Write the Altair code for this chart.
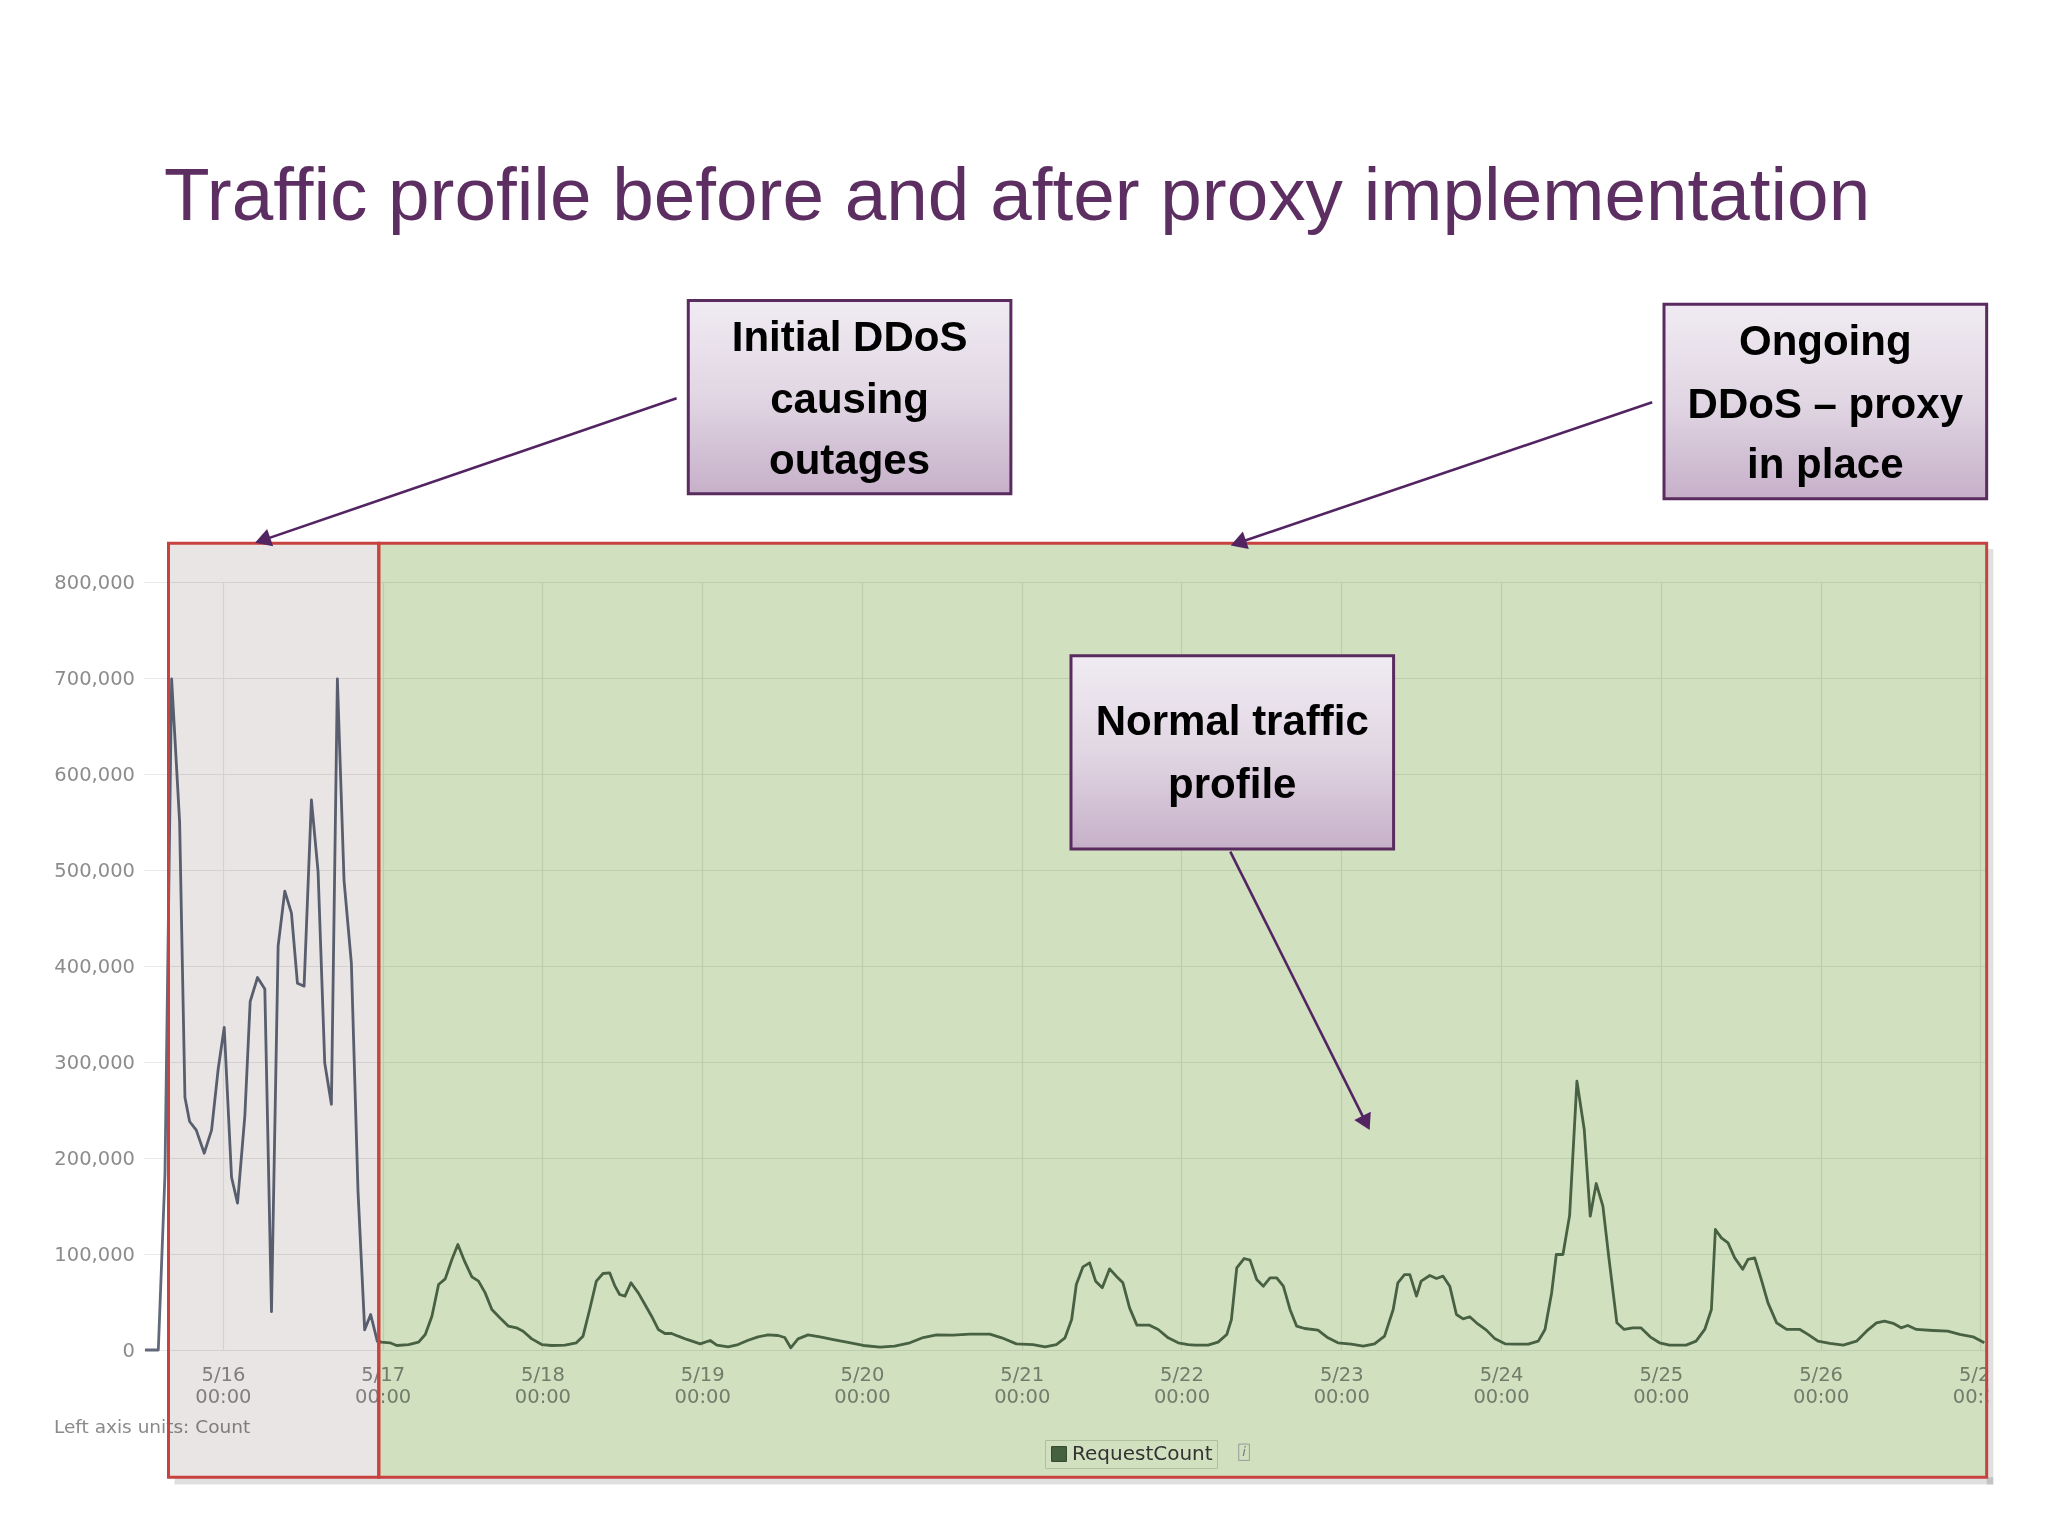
import altair as alt
import pandas as pd

# ------------------------------------------------------------------
# DATA (hours after 5/16 00:00, requests in thousands)
# ------------------------------------------------------------------
attack_hours = [-11.7, -9.7, -8.7, -7.7, -6.5, -5.7, -5.0, -4.0, -2.8, -1.7,
                -0.7, 0.2, 1.3, 2.2, 3.3, 4.1, 5.2, 6.3, 7.3, 8.3,
                9.3, 10.3, 11.2, 12.2, 13.3, 14.3, 15.3, 16.3, 17.2, 18.2,
                19.3, 20.3, 21.3, 22.2, 23.2]
attack_k = [0, 0, 183, 699, 550, 263, 238, 229, 205, 229,
            293, 336, 180, 153, 244, 363, 388, 376, 40, 421,
            478, 455, 382, 379, 573, 498, 299, 256, 699, 489,
            403, 165, 21, 37, 9]

proxy_hours = [23.8, 25.1, 26.1, 27.9, 29.4, 30.4, 31.4, 32.4, 33.4, 34.4,
               35.3, 36.3, 37.4, 38.4, 39.4, 40.4, 41.6, 42.9, 44.1, 45.1,
               46.4, 47.9, 49.4, 51.4, 53.1, 54.1, 55.1, 56.1, 57.1, 58.1,
               58.9, 59.6, 60.4, 61.3, 62.4, 63.4, 64.4, 65.4, 66.4, 67.4,
               68.4, 69.7, 71.7, 73.2, 74.2, 75.9, 77.4, 78.9, 80.4, 81.9,
               83.4, 84.4, 85.3, 86.4, 87.9, 89.7, 91.7, 93.7, 96.2, 98.7,
               100.9, 103.2, 105.2, 107.2, 109.7, 112.2, 115.2, 117.0, 119.2, 121.7,
               123.5, 125.2, 126.5, 127.5, 128.2, 129.2, 130.2, 131.1, 132.1, 133.2,
               134.2, 135.2, 136.2, 137.3, 139.2, 140.5, 142.0, 143.5, 145.0, 146.0,
               148.0, 149.5, 150.8, 151.5, 152.3, 153.4, 154.3, 155.3, 156.3, 157.3,
               158.3, 159.3, 160.3, 161.3, 162.5, 164.5, 166.0, 167.5, 169.5, 171.3,
               173.0, 174.5, 175.8, 176.5, 177.5, 178.3, 179.3, 180.0, 181.3, 182.3,
               183.3, 184.3, 185.3, 186.3, 187.3, 188.3, 189.8, 191.1, 192.6, 194.1,
               196.1, 197.6, 198.6, 199.6, 200.3, 201.3, 202.3, 203.4, 204.5, 205.4,
               206.3, 207.3, 208.2, 209.4, 210.5, 211.8, 213.0, 214.4, 215.8, 217.3,
               219.8, 221.3, 222.6, 223.6, 224.2, 225.1, 226.1, 227.1, 228.3, 229.1,
               230.1, 231.1, 232.1, 233.4, 234.9, 236.9, 238.1, 239.6, 241.4, 243.4,
               245.4, 246.9, 248.4, 249.6, 250.9, 252.1, 253.1, 254.4, 256.9, 259.1,
               260.9, 262.9, 264.6]
proxy_k = [8.2, 7.5, 4.7, 5.7, 8.2, 16.1, 35.2, 68.2, 74.1, 94.3,
           109.9, 92.5, 76.2, 71.7, 59.5, 42.2, 33.5, 24.8, 23.1, 19.6,
           11.6, 5.7, 4.7, 5.0, 7.5, 14.4, 42.2, 71.7, 79.7, 80.4,
           66.5, 57.8, 56.1, 70.0, 59.5, 47.4, 35.2, 21.4, 17.2, 17.2,
           14.4, 11.0, 6.4, 9.9, 5.0, 3.3, 5.7, 10.2, 13.7, 15.8,
           15.1, 13.0, 2.3, 11.6, 15.8, 13.7, 10.9, 8.2, 4.7, 3.0,
           4.0, 7.5, 13.0, 15.8, 15.5, 16.5, 16.5, 12.7, 6.4, 5.7,
           3.3, 5.7, 12.7, 31.8, 68.2, 86.6, 90.8, 71.7, 64.8, 84.5,
           76.9, 70.0, 43.9, 25.9, 25.9, 21.4, 12.7, 7.5, 5.7, 5.0,
           5.0, 8.2, 16.1, 31.8, 85.6, 95.3, 93.6, 73.4, 66.5, 75.2,
           75.2, 66.5, 42.2, 24.8, 22.4, 20.7, 12.7, 7.5, 6.1, 4.0,
           6.4, 14.4, 42.2, 70.0, 78.6, 78.6, 56.1, 71.7, 77.6, 74.5,
           76.9, 66.5, 37.0, 32.5, 34.6, 28.3, 20.7, 11.6, 6.4, 6.1,
           6.1, 9.2, 21.4, 59.5, 99.5, 99.5, 140.0, 280.0, 229.7, 139.4,
           173.4, 149.8, 96.0, 28.3, 21.4, 23.1, 23.1, 13.7, 7.5, 5.1,
           5.1, 9.2, 21.4, 42.2, 125.5, 116.8, 111.6, 96.0, 84.1, 94.4,
           96.0, 73.4, 49.1, 28.3, 21.4, 21.4, 16.3, 9.2, 6.9, 5.1,
           9.2, 19.6, 28.3, 30.1, 27.8, 23.1, 25.5, 21.4, 20.3, 19.6,
           16.3, 13.7, 7.5]

tick_days = list(range(16, 28))                      # 5/16 ... 5/27
y_ticks = [0, 100000, 200000, 300000, 400000, 500000, 600000, 700000, 800000]
series_name = "RequestCount"

title_text = "Traffic profile before and after proxy implementation"
box_lines = [
    ["Initial DDoS", "causing", "outages"],
    ["Ongoing", "DDoS \u2013 proxy", "in place"],
    ["Normal traffic", "profile"],
]
y_title = "Left axis units: Count"

# ------------------------------------------------------------------
# helpers / styles
# ------------------------------------------------------------------
BASE = pd.Timestamp("2013-05-16T00:00:00")


def ts(h):
    return (BASE + pd.Timedelta(hours=h)).strftime("%Y-%m-%dT%H:%M:%SZ")


K = 1000
SANS = "Liberation Sans, Arial, Helvetica, sans-serif"
VERD = "DejaVu Sans, Verdana, sans-serif"
PURPLE = "#5A2B5E"
ARROW = "#532462"
RED = "#C8423F"
GRID = "#E9E9E9"

# line table: the attack phase and the proxy phase (sharing the joining point)
phase = (["attack"] * (len(attack_hours) + 1)) + (["proxy"] * (len(proxy_hours) + 1))
hours = attack_hours + [proxy_hours[0]] + [attack_hours[-1]] + proxy_hours
counts = ([v * K for v in attack_k] + [proxy_k[0] * K]
          + [attack_k[-1] * K] + [v * K for v in proxy_k])
line_df = pd.DataFrame({"t": [ts(h) for h in hours], "v": counts, "phase": phase})

xs = alt.Scale(type="utc", nice=False,
               domain=[alt.DateTime(year=2013, month=5, date=15, hours=12, utc=True),
                       alt.DateTime(year=2013, month=5, date=27, hours=1, utc=True)])
ys = alt.Scale(domain=[0, 800000], nice=False, zero=False)

x_axis = alt.Axis(
    values=[alt.DateTime(year=2013, month=5, date=d, utc=True) for d in tick_days],
    labelExpr="[utcFormat(datum.value, '%-m/%-d'), utcFormat(datum.value, '%H:%M')]",
    labelFont=VERD, labelFontSize=19.5, labelColor="#8C8C8C", labelPadding=15,
    labelBaseline="top", labelLineHeight=22, labelFlush=False, labelOverlap=False,
    ticks=False, domain=False, grid=True, gridColor=GRID, gridWidth=1.2, title=None,
)
y_axis = alt.Axis(
    values=y_ticks, labelExpr="format(datum.value, ',')",
    labelFont=VERD, labelFontSize=19.5, labelColor="#8C8C8C",
    labelPadding=8.5, ticks=False, domain=False, grid=True, gridColor=GRID,
    gridWidth=1.2, title=y_title, titleAngle=0, titleX=-89.5, titleY=844, titleAlign="left",
    titleBaseline="middle", titleFont=VERD, titleFontSize=18.5, titleFontWeight="normal",
    titleColor="#8A8A8A",
)


def X(field="t"):
    return alt.X(f"{field}:T", scale=xs)


def Y(field="v"):
    return alt.Y(f"{field}:Q", scale=ys)


# main line
line = alt.Chart(line_df).mark_line(strokeWidth=2.8, strokeJoin="round").encode(
    x=alt.X("t:T", scale=xs, axis=x_axis),
    y=alt.Y("v:Q", scale=ys, axis=y_axis),
    stroke=alt.Stroke("phase:N", legend=None,
                      scale=alt.Scale(domain=["attack", "proxy"], range=["#61697A", "#566E58"])),
)

# phase regions (attack / proxy)
g_left, g_split, g_right = -8.17, 23.42, 264.95
r_top, r_bot = 840300, -132500
region_df = pd.DataFrame({
    "t": [ts(g_left), ts(g_split)], "t2": [ts(g_split), ts(g_right)],
    "v": [r_top, r_top], "v2": [r_bot, r_bot], "fill": ["#E9E5E5", "#D1E1C0"],
})
regions = alt.Chart(region_df).mark_rect(blend="multiply").encode(
    x=X(), x2="t2:T", y=Y(), y2="v2:Q", fill=alt.Fill("fill:N", scale=None)
)
borders = alt.Chart(region_df).mark_rect(fillOpacity=0, stroke=RED, strokeWidth=3).encode(
    x=X(), x2="t2:T", y=Y(), y2="v2:Q"
)

# mask for the clipped last label, and the region's drop shadow
mask_df = pd.DataFrame({"t": [ts(265.2)], "t2": [ts(273)], "v": [-2000], "v2": [-90000]})
mask = alt.Chart(mask_df).mark_rect(color="white").encode(x=X(), x2="t2:T", y=Y(), y2="v2:Q")
shadow_df = pd.DataFrame({
    "t": [ts(g_left + 0.9), ts(g_right)], "t2": [ts(g_right + 1.0), ts(g_right + 1.0)],
    "v": [r_bot, r_top - 6000], "v2": [r_bot - 7500, r_bot - 7500],
})
region_shadow = alt.Chart(shadow_df).mark_rect(color="#000000", opacity=0.12).encode(
    x=X(), x2="t2:T", y=Y(), y2="v2:Q"
)

# annotation boxes
box_df = pd.DataFrame({
    "t": [ts(69.91), ts(216.48), ts(127.4)],
    "t2": [ts(118.37), ts(264.95), ts(175.86)],
    "v": [1093300, 1089300, 723200],
    "v2": [892000, 886600, 521900],
})
grad = alt.LinearGradient(
    gradient="linear", x1=0, x2=0, y1=0, y2=1,
    stops=[alt.GradientStop(color="#F0EBF2", offset=0),
           alt.GradientStop(color="#E1D6E3", offset=0.5),
           alt.GradientStop(color="#C6B0C9", offset=1)],
)
box_shadow = alt.Chart(box_df).mark_rect(color="#6E6E6E", opacity=0.4, xOffset=5, yOffset=5).encode(
    x=X(), x2="t2:T", y=Y(), y2="v2:Q"
)
boxes = alt.Chart(box_df).mark_rect(fill=grad, stroke=PURPLE, strokeWidth=3).encode(
    x=X(), x2="t2:T", y=Y(), y2="v2:Q"
)

box_cx = [94.14, 240.71, 151.63]
box_ly = [[1053900, 989900, 925900], [1049800, 984500, 921900], [653900, 588500]]
txt_rows = []
for cx, lines, lys in zip(box_cx, box_lines, box_ly):
    for s, ly in zip(lines, lys):
        txt_rows.append({"t": ts(cx), "v": ly, "text": s})
box_text = alt.Chart(pd.DataFrame(txt_rows)).mark_text(
    font=SANS, fontWeight="bold", fontSize=42, color="black", align="center", baseline="middle"
).encode(x=X(), y=Y(), text="text:N")

# arrows
arrow_df = pd.DataFrame({
    "t": [ts(68.16), ts(214.71), ts(151.33)],
    "v": [991300, 987200, 519200],
    "t2": [ts(6.34), ts(152.91), ts(171.55)],
    "v2": [844400, 841700, 239000],
    "angle": [251, 251, 153.4],
})
arrow_lines = alt.Chart(arrow_df).mark_rule(color=ARROW, strokeWidth=2.6).encode(
    x=X(), x2="t2:T", y=Y(), y2="v2:Q"
)
arrow_heads = alt.Chart(arrow_df).mark_point(
    shape="triangle", filled=True, size=340, color=ARROW, opacity=1
).encode(x=X("t2"), y=Y("v2"), angle=alt.Angle("angle:Q", scale=None))

# slide title
title_df = pd.DataFrame({"t": [ts(-8.85)], "v": [1177000], "text": [title_text]})
title = alt.Chart(title_df).mark_text(
    font=SANS, fontSize=74.7, color="#5D2E61", align="left", baseline="alphabetic"
).encode(x=X(), y=Y(), text="text:N")

# legend (RequestCount) + info icon
legend_df = pd.DataFrame({"series": [series_name], "t": [ts(150)], "v": [-110000]})
legend_layer = alt.Chart(legend_df).mark_square(opacity=0).encode(
    x=X(), y=Y(),
    color=alt.Color("series:N",
                    scale=alt.Scale(domain=[series_name], range=["#45613F"]),
                    legend=alt.Legend(title=None, orient="none", legendX=902, legendY=858,
                                      symbolType="square", symbolSize=220, symbolOpacity=1,
                                      symbolStrokeColor="#2E452B", symbolStrokeWidth=1,
                                      labelFont=VERD, labelFontSize=20, labelColor="#333333",
                                      labelOffset=3, padding=4, strokeColor="#AFC09F")),
)
info_df = pd.DataFrame({"t": [ts(152.6)], "t2": [ts(154.2)], "v": [-98000], "v2": [-115000],
                        "tc": [ts(153.4)], "vc": [-106500], "text": ["i"]})
info_box = alt.Chart(info_df).mark_rect(fillOpacity=0, stroke="#9A9A9A", strokeWidth=1).encode(
    x=X(), x2="t2:T", y=Y(), y2="v2:Q"
)
info_txt = alt.Chart(info_df).mark_text(
    font=VERD, fontSize=13, fontStyle="italic", color="#777777", align="center", baseline="middle"
).encode(x=X("tc"), y=Y("vc"), text="text:N")

chart = alt.layer(
    line, regions, mask, region_shadow, borders,
    box_shadow, boxes, box_text, arrow_lines, arrow_heads, title,
    legend_layer, info_box, info_txt,
).properties(
    width=1844, height=768,
    padding={"left": 135, "top": 574, "right": 40, "bottom": 160},
    autosize=alt.AutoSizeParams(type="none"),
).configure(background="white").configure_view(stroke=None)

chart.save("out.html", embed_options={"renderer": "svg", "actions": False})
